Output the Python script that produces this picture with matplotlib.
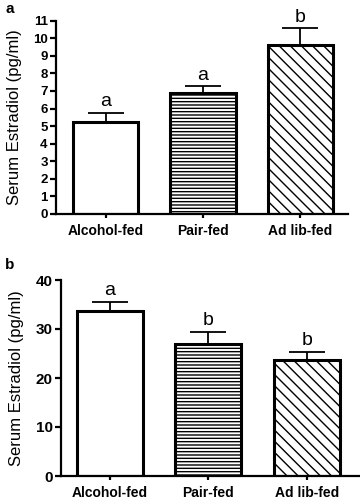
import numpy as np
import matplotlib as mpl
import matplotlib.pyplot as plt

mpl.rcParams['font.family'] = ['Liberation Sans', 'DejaVu Sans']
mpl.rcParams['hatch.linewidth'] = 1.0

groups = ['Alcohol-fed', 'Pair-fed', 'Ad lib-fed']
hatches = ['', '-----', '\\\\\\']

# panel a
vals_a = [5.25, 6.9, 9.6]
err_a = [0.52, 0.38, 0.98]
sig_a = ['a', 'a', 'b']

# panel b
vals_b = [33.6, 27.0, 23.6]
err_b = [2.0, 2.4, 1.8]
sig_b = ['a', 'b', 'b']

W, H = 360, 499
fig = plt.figure(figsize=(W / 100, H / 100), dpi=100)


def draw_panel(rect, vals, errs, sigs, ylim, yticks, xlim, tick_fs, letter_off):
    ax = fig.add_axes(rect)
    x = np.arange(len(groups))
    for xi, v, h in zip(x, vals, hatches):
        ax.bar(xi, v, width=0.67, color='white', edgecolor='black',
               linewidth=0, hatch=h or None, zorder=2)
        ax.bar(xi, v, width=0.67, fill=False, edgecolor='black',
               linewidth=2.2, zorder=3)
    ax.errorbar(x, vals, yerr=[np.zeros(len(vals)), errs], fmt='none',
                ecolor='black', elinewidth=1.3, capsize=13, capthick=1.3,
                zorder=4)
    for xi, v, e, s in zip(x, vals, errs, sigs):
        ax.text(xi, v + e + letter_off, s, ha='center', va='bottom',
                fontsize=14)
    ax.set_xlim(*xlim)
    ax.set_ylim(*ylim)
    ax.set_yticks(yticks)
    ax.set_xticks(x)
    ax.set_xticklabels(groups, fontsize=10, fontweight='bold')
    for lab in ax.get_yticklabels():
        lab.set_fontsize(tick_fs)
        lab.set_fontweight('bold')
    ax.spines['top'].set_visible(False)
    ax.spines['right'].set_visible(False)
    for sp in ['left', 'bottom']:
        ax.spines[sp].set_linewidth(1.6)
    ax.tick_params(axis='y', length=4, width=1.6, pad=2)
    ax.tick_params(axis='x', length=3, width=1.6, pad=4)
    ax.set_ylabel('Serum Estradiol (pg/ml)', fontsize=12)
    return ax


ax_a = draw_panel([56 / W, 1 - 214 / H, 292 / W, 193.3 / H],
                  vals_a, err_a, sig_a, (0, 11), range(0, 12),
                  (-0.509, 2.49), 9.5, 0.12)
ax_a.yaxis.set_label_coords(-0.116, 0.5)

ax_b = draw_panel([61 / W, 1 - 476 / H, 299 / W, 196 / H],
                  vals_b, err_b, sig_b, (0, 40), [0, 10, 20, 30, 40],
                  (-0.497, 2.54), 11, 0.5)
ax_b.yaxis.set_label_coords(-0.124, 0.5)

fig.text(5 / W, 1 - 2 / H, 'a', fontsize=11, fontweight='bold',
         ha='left', va='top')
fig.text(5 / W, 1 - 258 / H, 'b', fontsize=11, fontweight='bold',
         ha='left', va='top')

fig.savefig('out.png', dpi=100)
